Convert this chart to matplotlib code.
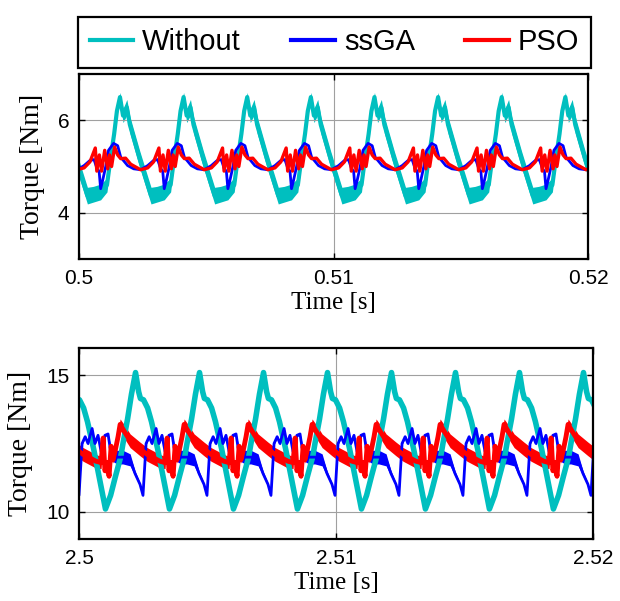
import numpy as np
import matplotlib
matplotlib.use('Agg')
import matplotlib.pyplot as plt
from matplotlib.lines import Line2D

# colours of the three cases
c_without = '#00BFBF'
c_ssga = '#0000FF'
c_pso = '#FF0000'

legend_labels = ['Without', 'ssGA', 'PSO']

# ---- top panel (t = 0.5 ... 0.52 s) ----
# one ripple period, offsets in ms from the ssGA dip
top_anchors = [0.49835, 0.50085, 0.50335, 0.50585, 0.50835, 0.51085, 0.51335, 0.51585, 0.51835]

top_without_off = [0.0, 0.25, 0.37, 0.53, 0.64, 0.76, 0.88, 1.03, 1.15, 1.54, 1.98, 2.21]
top_without_val = [4.45, 4.6, 5.1, 5.7, 6.2, 6.5, 6.1, 6.28, 5.9, 5.15, 4.37, 4.4]
top_without_hw = [0.17, 0.15, 0.12, 0.1, 0.1, 0.1, 0.15, 0.17, 0.18, 0.18, 0.18, 0.17]

top_ssga_off = [0.0, 0.08, 0.2, 0.31, 0.51, 0.67, 0.79, 1.06, 1.3, 1.57, 1.85, 2.08, 2.24, 2.36, 2.44]
top_ssga_val = [4.52, 4.7, 5.0, 5.35, 5.5, 5.45, 5.2, 5.02, 4.95, 4.93, 5.02, 5.13, 5.15, 4.95, 4.9]

top_pso_off = [0.04, 0.16, 0.28, 0.35, 0.43, 0.55, 0.67, 0.79, 0.98, 1.18, 1.57, 1.85, 2.08, 2.29, 2.35, 2.45]
top_pso_val = [4.9, 5.35, 4.95, 5.25, 5.0, 5.42, 5.25, 5.17, 5.18, 5.05, 4.93, 4.97, 5.1, 5.4, 4.9, 5.25]

top_xticks = [0.5, 0.51, 0.52]
top_xticklabels = ['0.5', '0.51', '0.52']
top_yticks = [4, 6]

# ---- bottom panel (t = 2.5 ... 2.52 s) ----
# offsets in ms from the peak of the "Without" curve
bot_anchors = [2.49971, 2.5022, 2.50469, 2.50718, 2.50967, 2.51216, 2.51465, 2.51714, 2.51963]

bot_without_off = [0, 0.12, 0.19, 0.31, 0.47, 0.62, 0.86, 1.09, 1.32, 1.52, 1.71, 1.91, 2.02, 2.18, 2.33]
bot_without_val = [15.1, 14.4, 14.15, 14.1, 13.8, 13.3, 12.3, 11.2, 10.1, 10.6, 11.3, 12.0, 12.6, 13.4, 14.3]

bot_ssga_off = [0.175, 0.29, 0.41, 0.53, 0.64, 0.80, 0.91, 1.03, 1.15, 1.30, 1.42, 1.54, 1.77, 2.00, 2.28, 2.47]
bot_ssga_val = [11.0, 10.6, 12.5, 12.75, 12.5, 13.05, 12.5, 12.8, 12.2, 12.8, 12.85, 12.1, 12.0, 12.0, 11.9, 11.4]
bot_ssga_hw = [0.05, 0.05, 0.05, 0.05, 0.05, 0.05, 0.05, 0.05, 0.05, 0.05, 0.05, 0.22, 0.25, 0.25, 0.22, 0.1]

bot_pso_off = [0.175, 0.45, 0.95, 1.15, 1.23, 1.30, 1.38, 1.46, 1.54, 1.61, 1.69, 1.81, 1.89, 2.08, 2.28]
bot_pso_val = [12.3, 12.1, 11.85, 11.8, 12.7, 11.5, 11.8, 11.3, 12.4, 11.9, 12.2, 12.75, 13.2, 12.9, 12.6]
bot_pso_hw = [0.25, 0.25, 0.25, 0.22, 0.1, 0.1, 0.12, 0.1, 0.1, 0.12, 0.15, 0.2, 0.2, 0.25, 0.25]

bot_xticks = [2.5, 2.51, 2.52]
bot_xticklabels = ['2.5', '2.51', '2.52']
bot_yticks = [10, 15]


def build(anchors, offsets, values):
    # lay the read period after every anchor time
    t = np.concatenate([a + np.array(offsets) * 1e-3 for a in anchors])
    v = np.tile(values, len(anchors))
    return t, v


def band(ax, anchors, offsets, values, halfwidth, color, lw):
    t, v = build(anchors, offsets, values)
    _, hw = build(anchors, offsets, halfwidth)
    ax.fill_between(t, v - hw, v + hw, color=color, lw=0)
    ax.plot(t, v, '-', color=color, lw=lw, solid_joinstyle='round')


def style_axes(ax, xlim, ylim, xticks, xticklabels, yticks):
    ax.set_xlim(xlim)
    ax.set_ylim(ylim)
    ax.set_xticks(xticks)
    ax.set_xticklabels(xticklabels, fontfamily='Liberation Sans', fontsize=15)
    ax.set_yticks(yticks)
    ax.set_yticklabels([str(y) for y in yticks], fontfamily='Liberation Sans', fontsize=15)
    ax.tick_params(direction='in', top=True, right=True, length=4, width=1, pad=7)
    ax.grid(True, color='#a0a0a0', lw=0.8)
    for s in ax.spines.values():
        s.set_linewidth(1.6)
    ax.set_xlabel('Time [s]', fontfamily='Liberation Serif', fontsize=18, labelpad=3)
    ax.set_ylabel('Torque [Nm]', fontfamily='Liberation Serif', fontsize=20, labelpad=9)


def plot():
    W, H = 620, 601
    fig = plt.figure(figsize=(W / 100, H / 100), dpi=100)

    ax1 = fig.add_axes([79 / W, 1 - 259 / H, 509 / W, 185 / H])
    band(ax1, top_anchors, top_without_off, top_without_val, top_without_hw, c_without, 3)
    t, v = build(top_anchors, top_ssga_off, top_ssga_val)
    ax1.plot(t, v, '-', color=c_ssga, lw=2)
    t, v = build(top_anchors, top_pso_off, top_pso_val)
    ax1.plot(t, v, '-', color=c_pso, lw=2.4)
    style_axes(ax1, (0.5, 0.52), (3, 7), top_xticks, top_xticklabels, top_yticks)

    ax2 = fig.add_axes([79 / W, 1 - 539 / H, 514 / W, 191 / H])
    t, v = build(bot_anchors, bot_without_off, bot_without_val)
    ax2.plot(t, v, '-', color=c_without, lw=4)
    band(ax2, bot_anchors, bot_ssga_off, bot_ssga_val, bot_ssga_hw, c_ssga, 2)
    band(ax2, bot_anchors, bot_pso_off, bot_pso_val, bot_pso_hw, c_pso, 3.5)
    style_axes(ax2, (2.5, 2.52), (9, 16), bot_xticks, bot_xticklabels, bot_yticks)

    handles = [Line2D([], [], color=c, lw=3) for c in [c_without, c_ssga, c_pso]]
    leg = fig.legend(handles, legend_labels, loc='lower left',
                     bbox_to_anchor=(78 / W, 1 - 68 / H, 513 / W, 56 / H),
                     ncol=3, mode='expand', borderaxespad=0, fancybox=False,
                     edgecolor='black', framealpha=1,
                     prop={'family': 'Liberation Sans', 'size': 21},
                     handlelength=1.5, handletextpad=0.3)
    leg.get_frame().set_linewidth(1.6)

    fig.savefig('out.png', dpi=100)


if __name__ == '__main__':
    plot()
